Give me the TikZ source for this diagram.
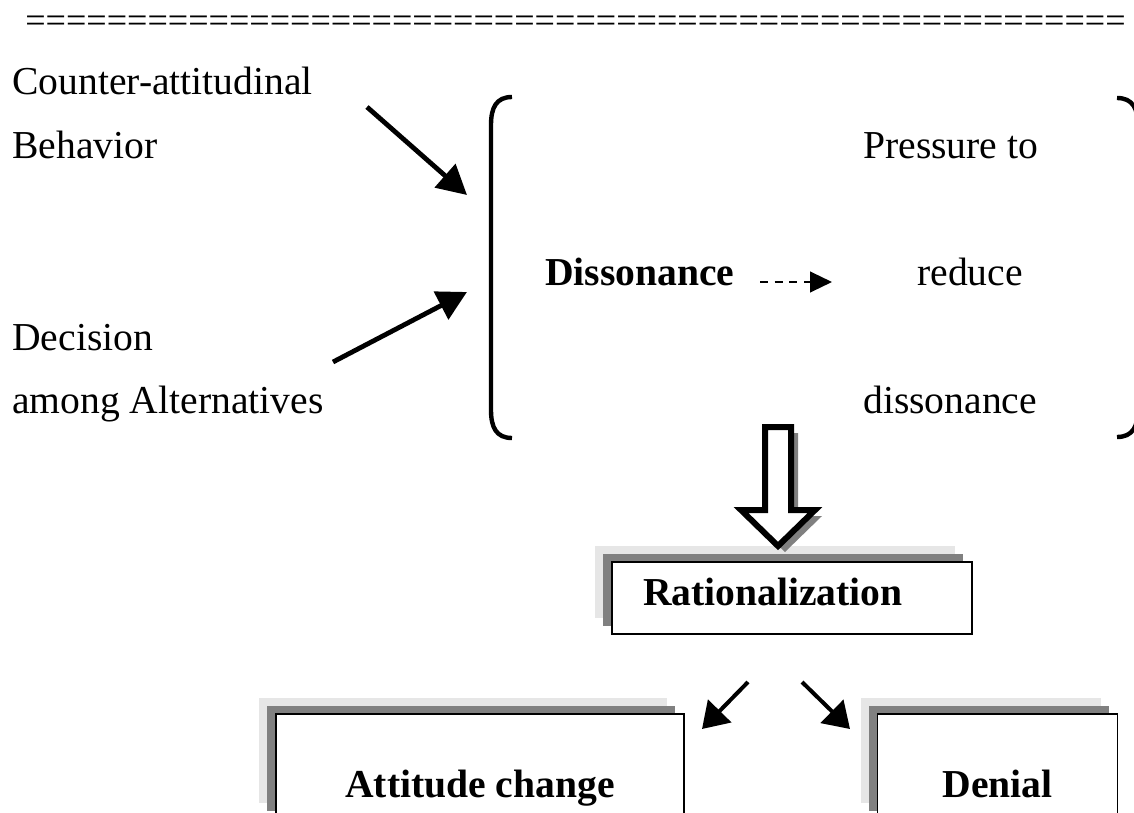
\documentclass[tikz,border=0pt]{standalone}
\usepackage{fontspec}
\setmainfont{Liberation Serif}
\usepackage{xcolor}
\usetikzlibrary{arrows.meta, shadows, positioning}

\definecolor{shadedark}{HTML}{808080}
\definecolor{shadelight}{HTML}{E6E6E6}
\newcommand{\bodysize}{\fontsize{29.7}{35.6}\selectfont}

\begin{document}
\begin{tikzpicture}[x=0.75pt, y=-0.75pt,
        every node/.style={inner sep=0pt, font=\bodysize},
        plaintext/.style={anchor=base west},
        bigarrow/.style={line width=3.6pt, -{Triangle[length=22pt, width=23pt]}},
        smallarrow/.style={line width=3pt, -{Triangle[length=19pt, width=24pt]}},
        dasharrow/.style={line width=1.7pt, dash pattern=on 6pt off 5pt, -{Triangle[length=16.5pt, width=15.5pt]}},
        bracket/.style={line width=3.3pt},
        shadowbox/.style={draw, line width=1.2pt, fill=white, font=\bodysize\bfseries,
            copy shadow={shadow xshift=-12.75pt, shadow yshift=12pt, fill=shadelight, draw=none},
            copy shadow={shadow xshift=-6.75pt, shadow yshift=6pt, fill=shadedark, draw=none}},
        bottombox/.style={shadowbox, minimum height=78.75pt, text height=51.8pt, text depth=6pt, align=center}]

        \useasboundingbox (0,0) rectangle (1134,813);
        \clip (0,0) rectangle (1134,813);

        \node[plaintext, font=\fontsize{27.1}{32}\selectfont] (rule) at (25,33) {\foreach \i in {1,...,54}{=}};

        \node[plaintext] (counter) at (12,95) {Counter-attitudinal};
        \node[plaintext] (behavior) at (12,158) {Behavior};
        \node[plaintext] (decision) at (12,350) {Decision};
        \node[plaintext] (among) at (12,413) {among Alternatives};

        \node[plaintext, font=\bodysize\bfseries] (diss) at (545,285) {Dissonance};
        \node[plaintext] (pressure) at (863,158) {Pressure to};
        \node[plaintext] (reduce) at (917,285) {reduce};
        \node[plaintext] (dissred) at (863,413) {dissonance};

        \draw[bracket] (512,97) .. controls (496,97) and (491,108) .. (491,125) -- (491,410)
            .. controls (491,427) and (496,438) .. (512,438);
        \draw[bracket] (1117,98) .. controls (1133,98) and (1138,109) .. (1138,126) -- (1138,409)
            .. controls (1138,426) and (1133,437) .. (1117,437);

        \coordinate (behstart) at (367,107);
        \coordinate (behend) at (467,195);
        \coordinate (decstart) at (333,362);
        \coordinate (decend) at (467,292);
        \draw[bigarrow] (behstart) -- (behend);
        \draw[bigarrow] (decstart) -- (decend);

        \coordinate (pressstart) at (760,282);
        \coordinate (pressend) at (832,282);
        \draw[dasharrow] (pressstart) -- (pressend);

        \node[shadowbox, minimum width=270pt, minimum height=54pt, text width=223.5pt,
            inner xsep=23.25pt, align=left, text height=20pt, text depth=9.5pt] (ratio) at (792,598) {Rationalization};

        \fill[shadedark] (772,433) -- (798,433) -- (798,516) -- (822,516) -- (785,552) -- (748,516) -- (772,516) -- cycle;
        \draw[line width=4.5pt, fill=white, miter limit=10] (765,427) -- (791,427) -- (791,510) -- (815,510)
            -- (778,546) -- (741,510) -- (765,510) -- cycle;

        \node[bottombox, minimum width=306pt] (attitude) at (480,766.5) {Attitude change};
        \node[bottombox, minimum width=180pt, right=144pt of attitude] (denial) {Denial};

        \coordinate (attstart) at (748,682);
        \coordinate (attend) at (702,729);
        \coordinate (denstart) at (802,682);
        \coordinate (denend) at (850,729);
        \draw[smallarrow] (attstart) -- (attend);
        \draw[smallarrow] (denstart) -- (denend);
    \end{tikzpicture}
\end{document}
